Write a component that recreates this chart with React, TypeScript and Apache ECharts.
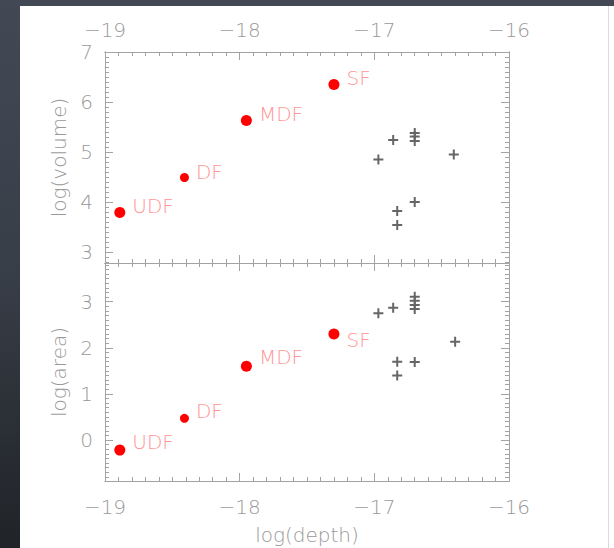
import React, { useEffect, useRef } from "react";
import * as echarts from "echarts";

// Survey fields (labelled red dots)
const surveyNames = ["UDF", "DF", "MDF", "SF"];
const surveyDepth = [-18.89, -18.41, -17.95, -17.3];
const surveyVolume = [3.79, 4.49, 5.63, 6.35];
const surveyArea = [-0.22, 0.47, 1.6, 2.3];
const surveyDotSize = [11, 9, 11, 11];
const volumeLabelShift = [-7, -6, -7, -7];
const areaLabelShift = [-8, -7, -9, 6];

// Other fields (crosses)
const fieldDepthVol = [-16.97, -16.86, -16.7, -16.7, -16.7, -16.41, -16.7, -16.83, -16.83];
const fieldVolume = [4.85, 5.24, 5.38, 5.31, 5.22, 4.95, 4.0, 3.82, 3.54];
const fieldDepthArea = [-16.97, -16.86, -16.7, -16.7, -16.7, -16.7, -16.4, -16.83, -16.7, -16.83];
const fieldArea = [2.75, 2.87, 3.11, 3.02, 2.93, 2.84, 2.13, 1.7, 1.69, 1.4];

// Axis ranges and tick labels
const depthRange = [-19, -16];
const volumeRange = [2.78, 7];
const areaRange = [-0.89, 3.84];
const depthTicks = [-19, -18, -17, -16];
const volumeTicks = [3, 4, 5, 6, 7];
const areaTicks = [0, 1, 2, 3];

const AXIS_COLOR = "#a3a3a3";
const LABEL_COLOR = "#999999";
const FONT = "DejaVu Sans";

function minorSteps(lo: number, hi: number): number[] {
  const out: number[] = [];
  const start = Math.ceil(lo * 10 - 1e-6);
  const end = Math.floor(hi * 10 + 1e-6);
  for (let i = start; i <= end; i++) out.push(Math.round(i) / 10);
  return out;
}

const fmt = (v: number) => (v < 0 ? "\u2212" + Math.abs(v) : String(v));

function frameAxis(
  gridIndex: number,
  position: string,
  range: number[],
  ticks: number[],
  tickLen: number,
  showLabels: boolean,
  extra: any = {},
  labelMargin = 12
) {
  return {
    type: "value",
    gridIndex,
    position,
    min: range[0],
    max: range[1],
    axisLine: { show: true, onZero: false, lineStyle: { color: AXIS_COLOR, width: 1 } },
    axisTick: {
      show: true,
      inside: true,
      length: tickLen,
      customValues: ticks,
      lineStyle: { color: AXIS_COLOR, width: 1 },
    },
    axisLabel: showLabels
      ? {
          show: true,
          customValues: ticks,
          formatter: (v: number) => fmt(v),
          color: LABEL_COLOR,
          fontFamily: FONT,
          fontWeight: 200,
          fontSize: 20,
          margin: labelMargin,
        }
      : { show: false },
    splitLine: { show: false },
    ...extra,
  };
}

function xAxesFor(gridIndex: number, labelSide: string | null, extra: any = {}) {
  const minor = minorSteps(depthRange[0], depthRange[1]);
  return [
    frameAxis(gridIndex, "bottom", depthRange, depthTicks, 8, labelSide === "bottom", labelSide === "bottom" ? extra : {}, 16),
    frameAxis(gridIndex, "bottom", depthRange, minor, 4, false),
    frameAxis(gridIndex, "top", depthRange, depthTicks, 8, labelSide === "top"),
    frameAxis(gridIndex, "top", depthRange, minor, 4, false),
  ];
}

function yAxesFor(gridIndex: number, range: number[], ticks: number[], name: string) {
  const minor = minorSteps(range[0], range[1]);
  const title = {
    name,
    nameLocation: "middle",
    nameGap: 34,
    nameTextStyle: { color: LABEL_COLOR, fontFamily: FONT, fontWeight: 200, fontSize: 20 },
  };
  return [
    frameAxis(gridIndex, "left", range, ticks, 8, true, title),
    frameAxis(gridIndex, "left", range, minor, 4, false),
    frameAxis(gridIndex, "right", range, ticks, 8, false),
    frameAxis(gridIndex, "right", range, minor, 4, false),
  ];
}

function surveySeries(values: number[], shifts: number[], xAxisIndex: number, yAxisIndex: number) {
  return {
    type: "scatter",
    xAxisIndex,
    yAxisIndex,
    symbol: "circle",
    itemStyle: { color: "#ff0000", opacity: 1 },
    label: {
      show: true,
      position: "right",
      distance: 7,
      formatter: "{b}",
      color: "#ff9595",
      fontFamily: FONT,
      fontWeight: 200,
      fontSize: 20,
    },
    data: surveyNames.map((n, i) => ({
      name: n,
      value: [surveyDepth[i], values[i]],
      symbolSize: surveyDotSize[i],
      label: { offset: [0, shifts[i]] },
    })),
    z: 5,
  };
}

const CROSS = "path://M4,0H6V4H10V6H6V10H4V6H0V4H4Z";

function fieldSeries(xs: number[], ys: number[], xAxisIndex: number, yAxisIndex: number) {
  return {
    type: "scatter",
    xAxisIndex,
    yAxisIndex,
    symbol: CROSS,
    symbolSize: 10,
    itemStyle: { color: "#666666", opacity: 1 },
    data: xs.map((x, i) => [x, ys[i]]),
    z: 4,
  };
}

export default function App() {
  const ref = useRef<HTMLDivElement>(null);

  useEffect(() => {
    if (!ref.current) return;
    const chart = echarts.init(ref.current, null, { renderer: "svg" });
    const option: any = {
      animation: false,
      backgroundColor: "transparent",
      grid: [
        { left: 105, top: 52, width: 404, height: 211, containLabel: false, outerBoundsMode: "none" },
        { left: 105, top: 263, width: 404, height: 218, containLabel: false, outerBoundsMode: "none" },
      ],
      xAxis: [
        ...xAxesFor(0, "top"),
        ...xAxesFor(1, "bottom", {
          name: "log(depth)",
          nameLocation: "middle",
          nameGap: 44,
          nameTextStyle: { color: LABEL_COLOR, fontFamily: FONT, fontWeight: 200, fontSize: 20 },
        }),
      ],
      yAxis: [
        ...yAxesFor(0, volumeRange, volumeTicks, "log(volume)"),
        ...yAxesFor(1, areaRange, areaTicks, "log(area)"),
      ],
      series: [
        surveySeries(surveyVolume, volumeLabelShift, 0, 0),
        fieldSeries(fieldDepthVol, fieldVolume, 0, 0),
        surveySeries(surveyArea, areaLabelShift, 4, 4),
        fieldSeries(fieldDepthArea, fieldArea, 4, 4),
      ],
    };
    chart.setOption(option);
    return () => chart.dispose();
  }, []);

  return (
    <div
      style={{
        position: "fixed",
        left: 0,
        top: 0,
        width: 614,
        height: 548,
        background: "linear-gradient(180deg, #424955 0%, #383e48 50%, #202327 100%)",
        overflow: "hidden",
      }}
    >
      <div
        style={{
          position: "absolute",
          left: 20,
          top: 6,
          width: 594,
          height: 542,
          background: "#ffffff",
        }}
      />
      <div
        style={{
          position: "absolute",
          left: 608,
          top: 6,
          width: 1,
          height: 542,
          background: "#dadada",
        }}
      />
      <div ref={ref} style={{ position: "absolute", left: 0, top: 0, width: 614, height: 548 }} />
    </div>
  );
}
